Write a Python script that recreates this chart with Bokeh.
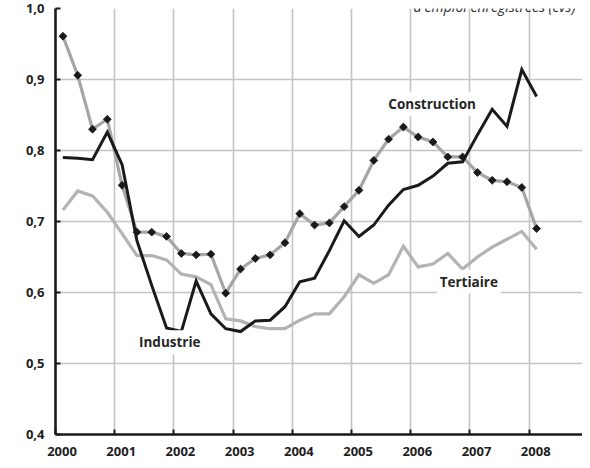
from bokeh.plotting import figure
from bokeh.models import FixedTicker, NumeralTickFormatter, Label, Range1d
from bokeh.embed import file_html
from bokeh.resources import INLINE
import math

years = [2000, 2001, 2002, 2003, 2004, 2005, 2006, 2007, 2008]
y_ticks = [0.4, 0.5, 0.6, 0.7, 0.8, 0.9, 1.0]
y_tick_labels = ["0,4", "0,5", "0,6", "0,7", "0,8", "0,9", "1,0"]
n_quarters = 33  # 2000T1 .. 2008T1

construction = [0.961, 0.906, 0.830, 0.844, 0.751, 0.685, 0.685, 0.679,
                0.655, 0.653, 0.654, 0.599, 0.633, 0.648, 0.653, 0.670,
                0.711, 0.695, 0.698, 0.721, 0.744, 0.786, 0.816, 0.833,
                0.819, 0.812, 0.791, 0.791, 0.769, 0.758, 0.756, 0.748,
                0.690]
industrie = [0.790, 0.789, 0.787, 0.826, 0.780, 0.673, 0.610, 0.550,
             0.545, 0.616, 0.570, 0.549, 0.545, 0.560, 0.561, 0.580,
             0.615, 0.620, 0.659, 0.701, 0.679, 0.695, 0.723, 0.745,
             0.751, 0.764, 0.782, 0.784, 0.822, 0.858, 0.834, 0.914,
             0.876]
tertiaire = [0.716, 0.743, 0.736, 0.713, 0.683, 0.652, 0.652, 0.646,
             0.626, 0.622, 0.611, 0.563, 0.560, 0.552, 0.549, 0.549,
             0.561, 0.570, 0.570, 0.594, 0.625, 0.613, 0.625, 0.665,
             0.636, 0.640, 0.655, 0.633, 0.650, 0.664, 0.675, 0.686,
             0.661]

# quarter mid-points
t = [years[0] + (k + 0.5) / 4.0 for k in range(n_quarters)]

FONT = "Open Sans"

p = figure(width=582, height=460, output_backend="svg", toolbar_location=None,
           x_range=Range1d(2000, 2008.9), y_range=Range1d(0.4, 1.0),
           min_border_left=55, min_border_right=0, min_border_top=8,
           min_border_bottom=26)
p.outline_line_color = None
p.background_fill_color = "white"
p.border_fill_color = "white"

# grids
p.xgrid.ticker = FixedTicker(ticks=years)
p.ygrid.ticker = FixedTicker(ticks=y_ticks)
for g in (p.xgrid, p.ygrid):
    g.grid_line_color = "#c4c4c4"
    g.grid_line_width = 1.6

# x axis: labels slightly right of the year ticks (at first quarter)
xa = p.xaxis[0]
xa.ticker = FixedTicker(ticks=[y + 0.11 for y in years], minor_ticks=years)
xa.formatter = NumeralTickFormatter(format="0")
xa.major_tick_in = 0
xa.major_tick_out = 0
xa.minor_tick_in = 5
xa.minor_tick_out = 0
xa.minor_tick_line_color = "#1a1a1a"
xa.minor_tick_line_width = 2
xa.axis_line_color = "#1a1a1a"
xa.axis_line_width = 2.6
xa.major_label_standoff = 12
xa.major_label_text_font = FONT
xa.major_label_text_font_style = "bold"
xa.major_label_text_font_size = "13px"
xa.major_label_text_color = "#1e1e1e"

ya = p.yaxis[0]
ya.ticker = FixedTicker(ticks=y_ticks)
ya.major_label_overrides = {v: s for v, s in zip(y_ticks, y_tick_labels)}
ya.major_tick_in = 5
ya.major_tick_out = 0
ya.major_tick_line_color = "#1a1a1a"
ya.major_tick_line_width = 2
ya.minor_tick_line_color = None
ya.axis_line_color = "#1a1a1a"
ya.axis_line_width = 2.6
ya.major_label_standoff = 11
ya.major_label_text_font = FONT
ya.major_label_text_font_style = "bold"
ya.major_label_text_font_size = "13px"
ya.major_label_text_color = "#1e1e1e"

# series
p.line(t, tertiaire, line_color="#b3b3b3", line_width=3.2, line_join="miter")
p.line(t, construction, line_color="#a6a6a6", line_width=3.2, line_join="miter")
p.line(t, industrie, line_color="#1a1a1a", line_width=3.0, line_join="miter")
p.scatter(t, construction, marker="square", size=5.6, angle=math.pi / 4,
          fill_color="#1a1a1a", line_color="#1a1a1a", line_width=0.8)

def add_label(x, y, txt):
    lab = Label(x=x, y=y, text=txt, text_align="center", text_baseline="middle",
                text_font=FONT, text_font_style="bold", text_font_size="13.5px",
                text_color="#262626", background_fill_color="white",
                padding=3)
    p.add_layout(lab)

add_label(2006.36, 0.866, "Construction")
add_label(2006.98, 0.615, "Tertiaire")
add_label(2001.93, 0.530, "Industrie")

top = Label(x=2008.78, y=1.0, y_offset=2, text="d'emploi enregistrées (cvs)",
            text_align="right", text_baseline="alphabetic", text_font=FONT,
            text_font_style="italic", text_font_size="14px", text_color="#2a2a2a")
p.add_layout(top)

open("out.html", "w").write(file_html(p, INLINE))
